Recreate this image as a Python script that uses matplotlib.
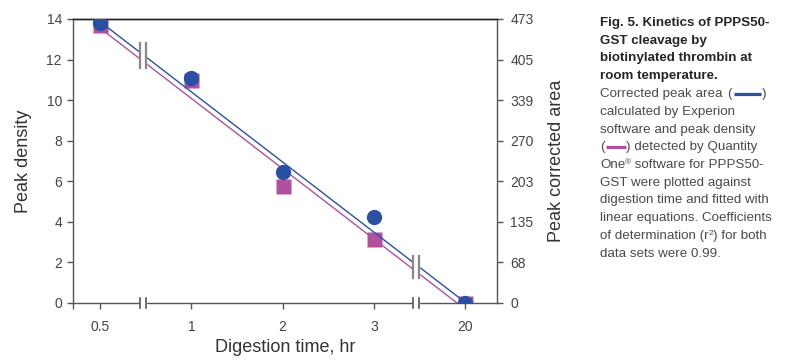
import numpy as np
import matplotlib
matplotlib.use("Agg")
import matplotlib.pyplot as plt
from matplotlib.lines import Line2D
from matplotlib.patches import Rectangle

plt.rcParams['font.family'] = ['Liberation Sans', 'DejaVu Sans']

# digestion time categories (broken axis, evenly spaced)
times = ["0.5", "1", "2", "3", "20"]
pos = np.arange(len(times))

# peak density (left axis, squares)
density = [13.7, 11.0, 5.78, 3.15, 0.0]
# corrected peak area (right axis, circles)
area = [466, 374, 218, 144, 0]

# fitted lines, at positions 0 and 4
fit_pos = [0, 4]
fit_density = [13.55, -0.31]
fit_area = [468.6, 1.0]

left_ticks = [0, 2, 4, 6, 8, 10, 12, 14]
right_labels = ["0", "68", "135", "203", "270", "339", "405", "473"]
area_max = 473

BLUE = "#2b4fa3"
MAGENTA = "#b0509f"
AXC = "#555555"
TXT = "#444444"

W, H = 789, 361
fig = plt.figure(figsize=(W / 100, H / 100), dpi=100)
ax = fig.add_axes([73 / W, (H - 303) / H, (497 - 73) / W, (303 - 19) / H])
ax2 = ax.twinx()

x0, x1 = -0.296, 4.348
ax.set_xlim(x0, x1)
ax.set_ylim(0, 14)
ax2.set_ylim(0, area_max)

ax.plot(fit_pos, fit_density, color=MAGENTA, lw=1.0, zorder=2)
ax.plot(pos, density, "s", color=MAGENTA, ms=10.8, mec="none", zorder=3)
ax2.plot(fit_pos, fit_area, color=BLUE, lw=1.0, zorder=2)
ax2.plot(pos, area, "o", color=BLUE, ms=11, mec="none", zorder=3)

ax.set_xticks(list(pos) + [x0])
ax.set_xticklabels(times + [""])
ax.set_yticks(left_ticks)
ax2.set_yticks(np.array(left_ticks) * area_max / 14)
ax2.set_yticklabels(right_labels)

ax.tick_params(axis="x", length=4, width=1, color=AXC, labelsize=10,
               labelcolor=TXT, pad=8.5)
ax.tick_params(axis="y", length=4.5, width=1, color=AXC, labelsize=10,
               labelcolor=TXT, pad=3.5)
ax2.tick_params(axis="y", length=4.5, width=1, color=AXC, labelsize=10,
                labelcolor=TXT, pad=5)

for a in (ax, ax2):
    for s in a.spines.values():
        s.set_color(AXC)
        s.set_linewidth(1.0)
    a.spines["top"].set_color("#222222")
ax2.spines["bottom"].set_visible(False)
ax2.spines["left"].set_visible(False)
ax.spines["right"].set_visible(False)

ax.set_ylabel("Peak density", fontsize=13, color="#333333")
ax.yaxis.set_label_coords(-0.097, 0.5)
ax2.set_ylabel("Peak corrected area", fontsize=13, color="#333333")
ax2.yaxis.set_label_coords(1.12, 0.5)
ax.set_xlabel("Digestion time, hr", fontsize=13, color="#333333")
ax.xaxis.set_label_coords(0.5, -0.128)

# break marks on the x axis and on the fitted lines
BRK = "#888888"
for bx in (0.471, 3.461):
    hw = 0.033
    tr = ax.get_xaxis_transform()
    ax2.add_patch(Rectangle((bx - hw + 0.005, -0.03), 2 * hw - 0.01, 0.06,
                            transform=tr, color="white", zorder=5, clip_on=False))
    for xx in (bx - hw, bx + hw):
        ax2.add_line(Line2D([xx, xx], [-0.018, 0.018], transform=tr, color=AXC,
                            lw=1.2, zorder=6, clip_on=False))
for bx, y_lo, y_hi in ((0.471, 11.57, 12.8), (3.461, 1.25, 2.3)):
    hw = 0.033
    ax2.add_patch(Rectangle((bx - hw, y_lo), 2 * hw, y_hi - y_lo,
                            transform=ax.transData, color="white", zorder=5))
    for xx in (bx - hw, bx + hw):
        ax2.add_line(Line2D([xx, xx], [y_lo, y_hi], transform=ax.transData,
                            color=BRK, lw=1.6, zorder=6))

# caption on the right
renderer = fig.canvas.get_renderer()


def caption_line(x, y_top, pieces):
    y = H - y_top
    for p in pieces:
        kind = p[0]
        if kind == "gap":
            x += p[1]
        elif kind == "swatch":
            w, c = p[1], p[2]
            fig.add_artist(Line2D([x / W, (x + w) / W], [(y + 3.5) / H, (y + 3.5) / H],
                                  color=c, lw=2.3, solid_capstyle="butt"))
            x += w
        else:
            s, kw = p[1], p[2]
            dy = kw.pop("dy", 0)
            t = fig.text(x / W, (y + dy) / H, s, va="baseline", ha="left", **kw)
            bb = t.get_window_extent(renderer)
            x = bb.x1


FS = 9.6
bold = dict(fontsize=FS, fontweight="bold", color="#262626")
reg = dict(fontsize=FS, color="#4a4a4a")
sup = dict(fontsize=6, color="#4a4a4a", dy=4)
lines = [
    [("t", "Fig. 5. Kinetics of PPPS50-", bold)],
    [("t", "GST cleavage by", bold)],
    [("t", "biotinylated thrombin at", bold)],
    [("t", "room temperature.", bold)],
    [("t", "Corrected peak area", reg), ("gap", 5), ("t", "(", reg), ("gap", 2),
     ("swatch", 27, BLUE), ("gap", 1), ("t", ")", reg)],
    [("t", "calculated by Experion", reg)],
    [("t", "software and peak density", reg)],
    [("t", "(", reg), ("gap", 1), ("swatch", 20, MAGENTA), ("gap", 1),
     ("t", ") detected by Quantity", reg)],
    [("t", "One", reg), ("t", "®", sup),
     ("t", " software for PPPS50-", reg)],
    [("t", "GST were plotted against", reg)],
    [("t", "digestion time and fitted with", reg)],
    [("t", "linear equations. Coefficients", reg)],
    [("t", "of determination (r", reg), ("t", "2", sup),
     ("t", ") for both", reg)],
    [("t", "data sets were 0.99.", reg)],
]
for i, pcs in enumerate(lines):
    pcs = [tuple(list(p[:2]) + [dict(p[2])]) if p[0] == "t" else p for p in pcs]
    caption_line(600, 26 + 17.75 * i, pcs)

fig.savefig("out.png", dpi=100)
